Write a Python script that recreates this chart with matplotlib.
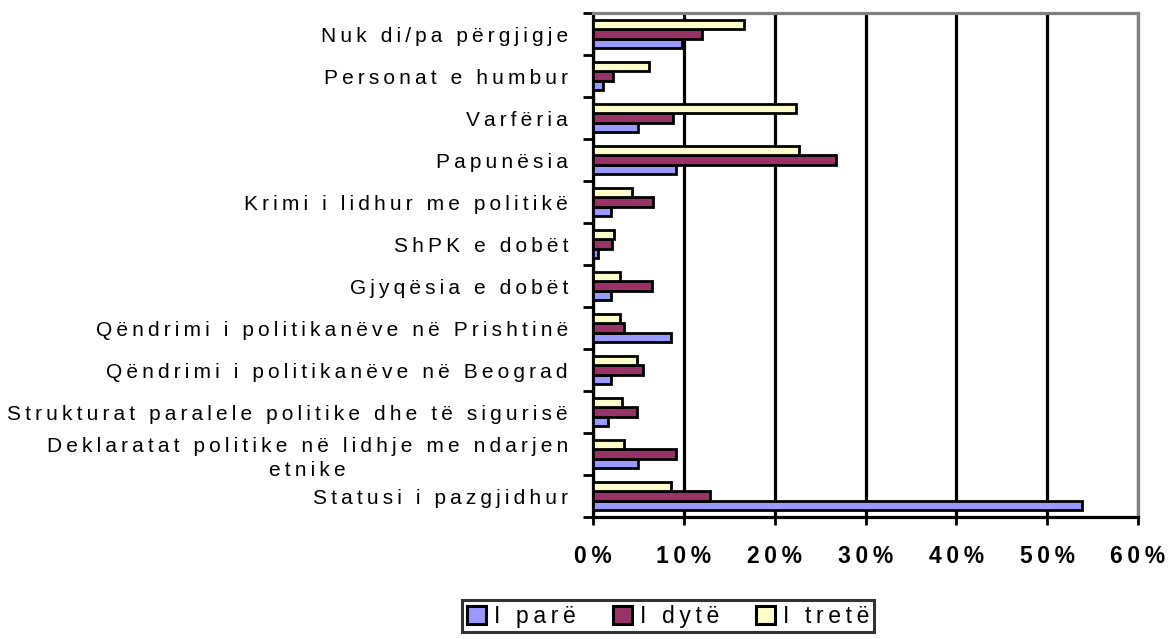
import numpy as np
import matplotlib
matplotlib.use('Agg')
import matplotlib.pyplot as plt
from matplotlib.ticker import FixedLocator, FuncFormatter

# categories, bottom to top
categories = [
    'Statusi i pazgjidhur',
    'Deklaratat politike në lidhje me ndarjen\netnike',
    'Strukturat paralele politike dhe të sigurisë',
    'Qëndrimi i politikanëve në Beograd',
    'Qëndrimi i politikanëve në Prishtinë',
    'Gjyqësia e dobët',
    'ShPK e dobët',
    'Krimi i lidhur me politikë',
    'Papunësia',
    'Varfëria',
    'Personat e humbur',
    'Nuk di/pa përgjigje',
]

series_names = ['I parë', 'I dytë', 'I tretë']
i_pare = [53.8, 5.0, 1.6, 2.0, 8.6, 2.0, 0.6, 2.0, 9.1, 5.0, 1.1, 9.8]
i_dyte = [12.9, 9.1, 4.8, 5.5, 3.4, 6.5, 2.1, 6.6, 26.7, 8.8, 2.2, 12.0]
i_trete = [8.6, 3.4, 3.2, 4.8, 3.0, 3.0, 2.3, 4.3, 22.7, 22.4, 6.2, 16.6]
x_ticks = [0, 10, 20, 30, 40, 50, 60]

colors = ['#9999FF', '#993366', '#FFFFCC']

plt.rcParams['font.family'] = ['Liberation Sans', 'DejaVu Sans']


def spaced(s, sep='\u2009'):
    # wide letter spacing like the original export
    return '\n'.join(sep.join(line) for line in s.split('\n'))


fig = plt.figure(figsize=(11.68, 6.39), dpi=100)
ax = fig.add_axes([593 / 1168, 1 - 517 / 639, (1138 - 593) / 1168, (517 - 13) / 639])

y = np.arange(len(categories))
h = 0.225
for k, vals in enumerate([i_pare, i_dyte, i_trete]):
    ax.barh(y + (k - 1) * h, vals, height=h, color=colors[k],
            edgecolor='black', linewidth=2.0, label=spaced(series_names[k]), zorder=3)

ax.set_xlim(0, 60)
ax.set_ylim(-0.5, len(categories) - 0.5)

# x axis
ax.xaxis.set_major_locator(FixedLocator(x_ticks))
ax.xaxis.set_major_formatter(FuncFormatter(lambda v, p: spaced(f'{int(v)}%')))
ax.tick_params(axis='x', direction='out', length=6, width=2, pad=14,
               labelsize=16.5, color='black')
for lbl in ax.get_xticklabels():
    lbl.set_fontweight('bold')
ax.grid(axis='x', color='black', linewidth=2.3, zorder=0)
ax.set_axisbelow(True)

# y axis: ticks at category boundaries, labels at centres
ax.yaxis.set_major_locator(FixedLocator(np.arange(-0.5, len(categories), 1.0)))
ax.yaxis.set_major_formatter(FuncFormatter(lambda v, p: ''))
ax.yaxis.set_minor_locator(FixedLocator(y))
ax.set_yticklabels([spaced(c) for c in categories], minor=True)
ax.tick_params(axis='y', which='major', direction='out', length=7.5, width=2)
ax.tick_params(axis='y', which='minor', length=0, pad=18, labelsize=15)
for lbl in ax.get_yticklabels(minor=True):
    lbl.set_multialignment('center')
    lbl.set_linespacing(1.35)

ax.spines['left'].set_linewidth(2.3)
ax.spines['bottom'].set_linewidth(2.3)
ax.spines['top'].set_color('#808080')
ax.spines['right'].set_color('#808080')
ax.spines['top'].set_linewidth(2.3)
ax.spines['right'].set_linewidth(2.3)

leg = fig.legend(loc='upper left', bbox_to_anchor=(462 / 1168, 1 - 600 / 639),
                 ncol=3, frameon=True, fancybox=False, fontsize=16.5,
                 handlelength=0.85, handleheight=0.85, handletextpad=0.35,
                 columnspacing=1.6, borderpad=0.2, borderaxespad=0)
leg.get_frame().set_edgecolor('black')
leg.get_frame().set_linewidth(2.2)
for p in leg.get_patches():
    p.set_linewidth(2.2)

fig.savefig('out.png', dpi=100)
